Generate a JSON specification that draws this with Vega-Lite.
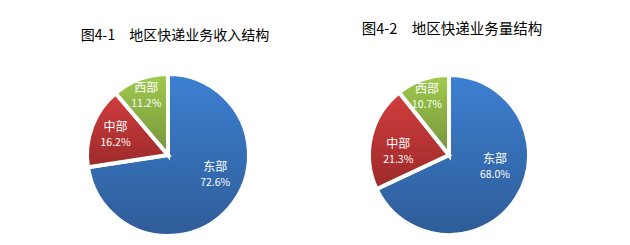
{
  "$schema": "https://vega.github.io/schema/vega-lite/v6.json",
  "padding": {"left": 0, "top": 21, "right": 0, "bottom": 0},
  "autosize": {"type": "pad"},
  "bounds": "flush",
  "spacing": 0,
  "config": {"view": {"stroke": null}, "font": "Noto Sans CJK SC", "title": {"font": "Noto Sans CJK SC"}},
  "datasets": {
    "income": [
      {"region": "东部", "share": 0.726},
      {"region": "中部", "share": 0.162},
      {"region": "西部", "share": 0.112}
    ],
    "volume": [
      {"region": "东部", "share": 0.680},
      {"region": "中部", "share": 0.213},
      {"region": "西部", "share": 0.107}
    ]
  },
  "hconcat": [
    {
      "width": 336,
      "height": 164,
      "data": {"name": "income"},
      "title": {"text": "图4-1　地区快递业务收入结构", "fontSize": 14, "fontWeight": "normal", "color": "#000", "offset": 23, "dx": 7, "anchor": "middle"},
      "encoding": {
        "theta": {"field": "share", "type": "quantitative", "stack": true},
        "order": {"field": "share", "sort": "descending"}
      },
      "layer": [
        {
          "mark": {"type": "arc", "outerRadius": 81, "stroke": "white", "strokeWidth": 4},
          "encoding": {
            "color": {
              "condition": [
                {"test": "datum.region === '东部'", "value": {"gradient": "linear", "x1": 0, "y1": 0, "x2": 0, "y2": 1, "stops": [{"offset": 0, "color": "#3D80D2"}, {"offset": 1, "color": "#2E5C97"}]}},
                {"test": "datum.region === '中部'", "value": {"gradient": "linear", "x1": 0, "y1": 0, "x2": 0, "y2": 1, "stops": [{"offset": 0, "color": "#D23E3E"}, {"offset": 1, "color": "#9C2A2A"}]}}
              ],
              "value": {"gradient": "linear", "x1": 0, "y1": 0, "x2": 0, "y2": 1, "stops": [{"offset": 0, "color": "#A0CB4E"}, {"offset": 1, "color": "#75933A"}]}
            }
          }
        },
        {"mark": {"type": "text", "radius": 49, "dx": 10, "dy": -20, "fontSize": 12, "fill": "white"},
         "encoding": {"text": {"condition": {"test": "datum.region === '东部'", "field": "region"}, "value": ""}}},
        {"mark": {"type": "text", "radius": 49, "dx": 10, "dy": -4, "fontSize": 10.5, "fill": "white"},
         "encoding": {"text": {"condition": {"test": "datum.region === '东部'", "field": "share", "format": ".1%"}, "value": ""}}},
        {"mark": {"type": "text", "radius": 56, "dy": -8, "fontSize": 12, "fill": "white"},
         "encoding": {"text": {"condition": {"test": "datum.region === '中部'", "field": "region"}, "value": ""}}},
        {"mark": {"type": "text", "radius": 56, "dy": 8, "fontSize": 10.5, "fill": "white"},
         "encoding": {"text": {"condition": {"test": "datum.region === '中部'", "field": "share", "format": ".1%"}, "value": ""}}},
        {"mark": {"type": "text", "radius": 63, "dy": -8, "fontSize": 12, "fill": "white"},
         "encoding": {"text": {"condition": {"test": "datum.region === '西部'", "field": "region"}, "value": ""}}},
        {"mark": {"type": "text", "radius": 63, "dy": 8, "fontSize": 10.5, "fill": "white"},
         "encoding": {"text": {"condition": {"test": "datum.region === '西部'", "field": "share", "format": ".1%"}, "value": ""}}}
      ]
    },
    {
      "width": 226,
      "height": 164,
      "data": {"name": "volume"},
      "title": {"text": "图4-2　地区快递业务量结构", "fontSize": 14.5, "fontWeight": "normal", "color": "#000", "offset": 30, "dx": 3, "anchor": "middle"},
      "encoding": {
        "theta": {"field": "share", "type": "quantitative", "stack": true},
        "order": {"field": "share", "sort": "descending"}
      },
      "layer": [
        {
          "mark": {"type": "arc", "outerRadius": 80, "stroke": "white", "strokeWidth": 4},
          "encoding": {
            "color": {
              "condition": [
                {"test": "datum.region === '东部'", "value": {"gradient": "linear", "x1": 0, "y1": 0, "x2": 0, "y2": 1, "stops": [{"offset": 0, "color": "#3D80D2"}, {"offset": 1, "color": "#2E5C97"}]}},
                {"test": "datum.region === '中部'", "value": {"gradient": "linear", "x1": 0, "y1": 0, "x2": 0, "y2": 1, "stops": [{"offset": 0, "color": "#D23E3E"}, {"offset": 1, "color": "#9C2A2A"}]}}
              ],
              "value": {"gradient": "linear", "x1": 0, "y1": 0, "x2": 0, "y2": 1, "stops": [{"offset": 0, "color": "#A0CB4E"}, {"offset": 1, "color": "#75933A"}]}
            }
          }
        },
        {"mark": {"type": "text", "radius": 45, "dx": 8, "dy": -20, "fontSize": 12, "fill": "white"},
         "encoding": {"text": {"condition": {"test": "datum.region === '东部'", "field": "region"}, "value": ""}}},
        {"mark": {"type": "text", "radius": 45, "dx": 8, "dy": -4, "fontSize": 10.5, "fill": "white"},
         "encoding": {"text": {"condition": {"test": "datum.region === '东部'", "field": "share", "format": ".1%"}, "value": ""}}},
        {"mark": {"type": "text", "radius": 50, "dx": -2, "dy": 0, "fontSize": 12, "fill": "white"},
         "encoding": {"text": {"condition": {"test": "datum.region === '中部'", "field": "region"}, "value": ""}}},
        {"mark": {"type": "text", "radius": 50, "dx": -2, "dy": 16, "fontSize": 10.5, "fill": "white"},
         "encoding": {"text": {"condition": {"test": "datum.region === '中部'", "field": "share", "format": ".1%"}, "value": ""}}},
        {"mark": {"type": "text", "radius": 61, "dx": -2, "dy": -8, "fontSize": 12, "fill": "white"},
         "encoding": {"text": {"condition": {"test": "datum.region === '西部'", "field": "region"}, "value": ""}}},
        {"mark": {"type": "text", "radius": 61, "dx": -2, "dy": 8, "fontSize": 10.5, "fill": "white"},
         "encoding": {"text": {"condition": {"test": "datum.region === '西部'", "field": "share", "format": ".1%"}, "value": ""}}}
      ]
    }
  ]
}
